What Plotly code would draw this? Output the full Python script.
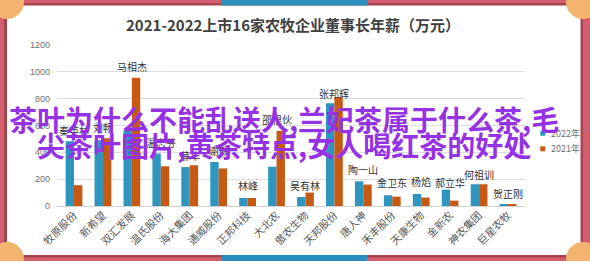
import plotly.graph_objects as go

categories = ["牧原股份", "新希望", "双汇发展", "温氏股份", "海大集团", "通威股份", "正邦科技", "大北农",
              "傲农生物", "天邦股份", "唐人神", "禾丰股份", "天康生物", "金新农", "神农集团", "巨星农牧"]
chairmen = ["秦英林", "刘畅", "马相杰", "温志芬", "薛华", "谢毅", "林峰", "邵根伙",
            "吴有林", "张邦辉", "陶一山", "金卫东", "杨焰", "郝立华", "何祖训", "贺正刚"]
salary_2022 = [483, 490, 563, 391, 290, 328, 60, 293, 67, 765, 184, 80, 90, 122, 162, 10]
salary_2021 = [155, 505, 956, 296, 304, 280, 60, 560, 100, 812, 160, 70, 63, 40, 162, 10]
series_names = ["2022年", "2021年"]
y_ticks = [0, 200, 400, 600, 800, 1000, 1200]
title_text = "2021-2022上市16家农牧企业董事长年薪（万元）"
overlay_lines = ["茶叶为什么不能乱送人,兰妃茶属于什么茶,毛", "尖茶叶图片,黄茶特点,女人喝红茶的好处"]

# style
label_yshift = [11, 11, 11, 11, 10, 11, 12, 11, 7, 4, 12, 13, 12, 7, 10, 11]
C22 = "#2E96BE"
C21 = "#C65A12"
PINK = "#D25F6E"
DARK = "#A9434F"
BLUE = "#2B8FBE"
CORNER = "#F2B46E"
W, H = 590, 261
L, R, T, B = 57, 65, 45, 55
PW, PH = W - L - R, H - T - B


def px(x):
    return (x - L) / PW


def py(y):
    return (H - B - y) / PH


fig = go.Figure()
fig.add_trace(go.Bar(x=categories, y=salary_2022, name=series_names[0], marker_color=C22,
                     marker_line_width=0))
fig.add_trace(go.Bar(x=categories, y=salary_2021, name=series_names[1], marker_color=C21,
                     marker_line_width=0))

shapes = []


def rect(x0, y0, x1, y1, color):
    shapes.append(dict(type="rect", xref="paper", yref="paper", x0=px(x0), x1=px(x1),
                       y0=py(y1), y1=py(y0), fillcolor=color, line_width=0, layer="below"))


rect(4, 3, 583, 257.5, DARK)
rect(7, 5.5, 580.5, 255, "white")
rect(222, 0, 368, 5.5, BLUE)
rect(222, 255, 367, 261, BLUE)
for cx, cy in [(7, 2), (583, 2), (7, 259), (583, 259)]:
    r = 17
    shapes.append(dict(type="circle", xref="paper", yref="paper", x0=px(cx - r), x1=px(cx + r),
                       y0=py(cy + r), y1=py(cy - r), fillcolor=CORNER, line_width=0, layer="above"))

# legend squares
for i, (col, yc) in enumerate([(C22, 133.3), (C21, 148.8)]):
    rect(540.3, yc - 2.5, 545.3, yc + 2.5, col)

annotations = []
annotations.append(dict(text="<b>" + title_text + "</b>", xref="paper", yref="paper", x=px(293), y=py(24.5),
                        showarrow=False, xanchor="center", yanchor="middle",
                        font=dict(family="Noto Sans CJK SC", size=15, color="#404040")))
for name, yc in zip(series_names, [133.3, 148.8]):
    annotations.append(dict(text=name, xref="paper", yref="paper", x=px(549), y=py(yc), showarrow=False,
                            xanchor="left", yanchor="middle",
                            font=dict(family="Noto Sans CJK SC", size=9, color="#707070")))
for cat, name, a, b, dy in zip(categories, chairmen, salary_2022, salary_2021, label_yshift):
    annotations.append(dict(text=name, x=cat, y=max(a, b), xref="x", yref="y", showarrow=False,
                            yanchor="middle", yshift=dy, xanchor="center",
                            font=dict(family="Noto Sans CJK SC", size=10, color="#333333")))
for line, yc in zip(overlay_lines, [119, 145]):
    annotations.append(dict(text="<b>" + line + "</b>", xref="paper", yref="paper", x=px(284), y=py(yc),
                            showarrow=False, xanchor="center", yanchor="middle",
                            font=dict(family="Noto Sans CJK SC", size=28, color="#9632E6")))

fig.update_layout(
    width=W, height=H, margin=dict(l=L, r=R, t=T, b=B, pad=0),
    paper_bgcolor=PINK, plot_bgcolor="rgba(0,0,0,0)",
    barmode="group", bargap=0.42, bargroupgap=0,
    showlegend=False, shapes=shapes, annotations=annotations,
    xaxis=dict(tickangle=-45, tickfont=dict(family="Noto Sans CJK SC", size=10.5, color="#595959"),
               showgrid=False, showline=False, ticks="", fixedrange=True),
    yaxis=dict(range=[0, 1200], tickvals=y_ticks, showgrid=True, gridcolor="#DDDDDD", gridwidth=1,
               zeroline=True, zerolinecolor="#D0D0D0", zerolinewidth=1,
               tickfont=dict(family="Liberation Sans", size=9, color="#707070"), ticks="",
               ticklabelstandoff=6, showline=False),
)
fig.write_html("out.html")
